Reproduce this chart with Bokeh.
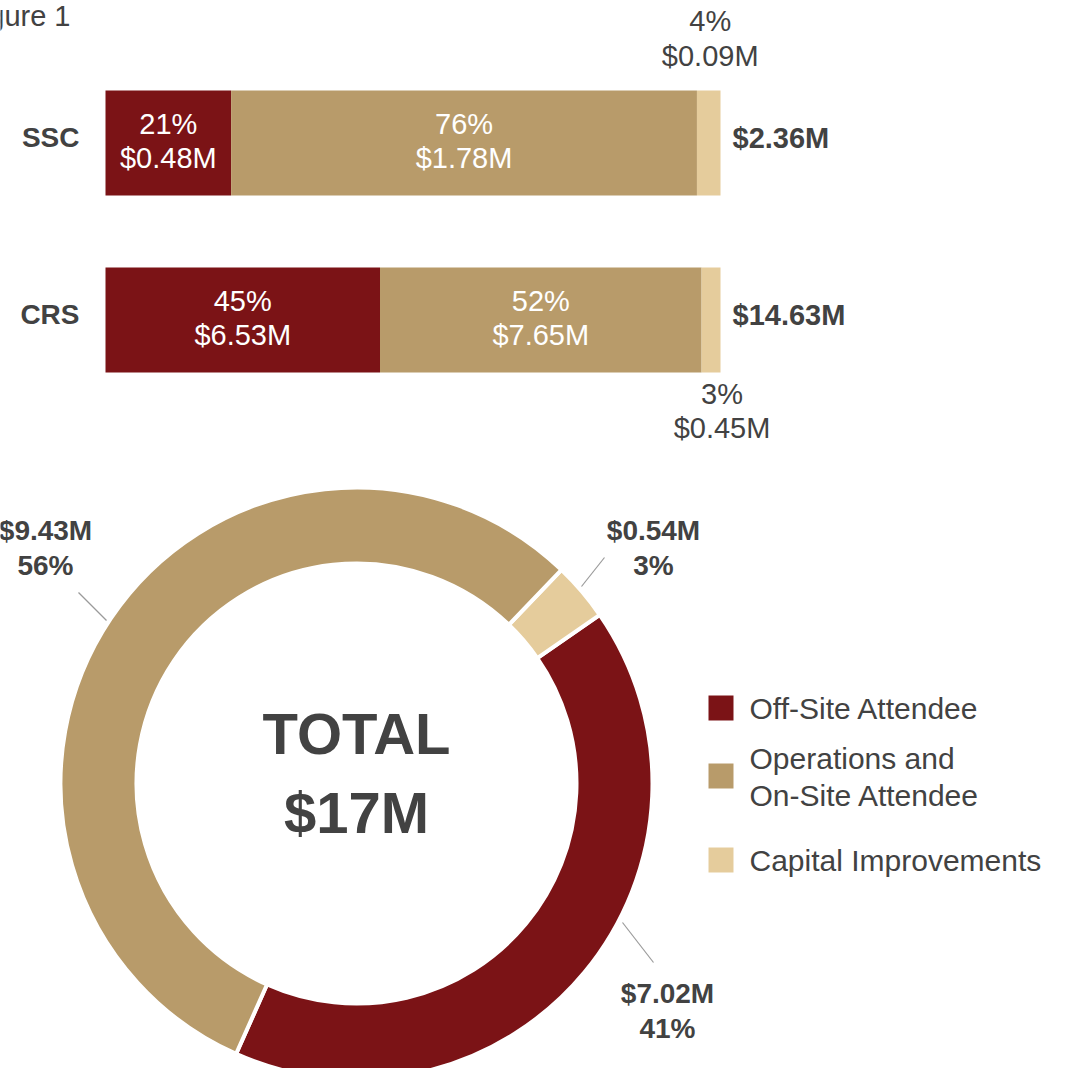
import math
from bokeh.plotting import figure
from bokeh.layouts import column
from bokeh.models import Range1d, ColumnDataSource
from bokeh.core.properties import value
from bokeh.embed import file_html
from bokeh.resources import INLINE

# ---------------- data ----------------
rows = ["SSC", "CRS"]
categories = ["Off-Site Attendee", "Operations and\nOn-Site Attendee", "Capital Improvements"]
ssc_values = [0.48, 1.78, 0.09]
crs_values = [6.53, 7.65, 0.45]
ssc_pct = [21, 76, 4]
crs_pct = [45, 52, 3]
row_totals = ["$2.36M", "$14.63M"]
total_values = [7.02, 9.43, 0.54]
total_pct = [41, 56, 3]
total_label = ["TOTAL", "$17M"]

colors = ["#7B1316", "#B89B6A", "#E5CC9C"]
TXT = "#424242"
FONT = value("Liberation Sans")

W = 1066
H1 = 453
H2 = 615

# ---------------- bars ----------------
ppu_x = 615.0
x0 = -105.0 / ppu_x
ppu_y = 177.0
ytop = 1 + 142.5 / ppu_y
p1 = figure(width=W, height=H1, output_backend="svg", toolbar_location=None,
            x_range=Range1d(x0, x0 + W / ppu_x),
            y_range=Range1d(ytop - H1 / ppu_y, ytop),
            x_axis_location=None, y_axis_location=None, min_border=0)
p1.grid.visible = False
p1.outline_line_color = None
p1.background_fill_color = "white"

row_y = {"SSC": 1, "CRS": 0}
all_vals = {"SSC": ssc_values, "CRS": crs_values}
all_pct = {"SSC": ssc_pct, "CRS": crs_pct}
for r in rows:
    vals = all_vals[r]
    tot = sum(vals)
    left = 0.0
    for i, v in enumerate(vals):
        right = left + v / tot
        p1.hbar(y=row_y[r], left=left, right=right, height=105 / ppu_y,
                fill_color=colors[i], line_color=None)
        mid = (left + right) / 2
        lab_pct = f"{all_pct[r][i]}%"
        lab_val = f"${v:.2f}M"
        if i < 2:
            p1.text(x=[mid], y=[row_y[r]], text=[lab_pct], y_offset=-19.5,
                    text_align="center", text_baseline="middle", text_color="white",
                    text_font=FONT, text_font_size="29px")
            p1.text(x=[mid], y=[row_y[r]], text=[lab_val], y_offset=15,
                    text_align="center", text_baseline="middle", text_color="white",
                    text_font=FONT, text_font_size="29px")
        else:
            if r == "SSC":
                offs, dx = (-122.5, -87.5), 1.5
            else:
                offs, dx = (73.5, 107.5), 11
            p1.text(x=[mid], y=[row_y[r]], text=[lab_pct], y_offset=offs[0], x_offset=dx,
                    text_align="center", text_baseline="middle", text_color=TXT,
                    text_font=FONT, text_font_size="29px")
            p1.text(x=[mid], y=[row_y[r]], text=[lab_val], y_offset=offs[1], x_offset=dx,
                    text_align="center", text_baseline="middle", text_color=TXT,
                    text_font=FONT, text_font_size="29px")
        left = right
    p1.text(x=[0], y=[row_y[r]], text=[r], x_offset=-26, y_offset=-5.5, text_align="right",
            text_baseline="middle", text_color=TXT, text_font=FONT,
            text_font_size="28px", text_font_style="bold")
    p1.text(x=[1], y=[row_y[r]], text=[row_totals[rows.index(r)]], x_offset=12,
            y_offset=-5.5, text_align="left", text_baseline="middle", text_color=TXT,
            text_font=FONT, text_font_size="29px", text_font_style="bold")

# figure title (cropped in the reference)
p1.text(x=[(70 - 105) / ppu_x], y=[1 + (142.5 - 15) / ppu_y], text=["Figure 1"],
        text_align="right", text_baseline="alphabetic", text_color=TXT,
        text_font=FONT, text_font_size="29px")

# ---------------- donut ----------------
def Y(refy):
    return 1076 - refy

p2 = figure(width=W, height=H2, output_backend="svg", toolbar_location=None,
            x_range=Range1d(0, W), y_range=Range1d(Y(453 + H2), Y(453)),
            x_axis_location=None, y_axis_location=None, min_border=0)
p2.grid.visible = False
p2.outline_line_color = None
p2.background_fill_color = "white"

cx, cy = 356, Y(783)
order = [0, 2, 1]  # anticlockwise from bottom: off-site, capital, operations
gt = sum(total_values)
start = math.radians(-114.0)
starts, ends, cols = [], [], []
for i in order:
    span = total_values[i] / gt * 2 * math.pi
    starts.append(start)
    ends.append(start + span)
    cols.append(colors[i])
    start += span
src = ColumnDataSource(dict(s=starts, e=ends, c=cols))
p2.annular_wedge(x=cx, y=cy, inner_radius=220, outer_radius=296,
                 start_angle="s", end_angle="e", fill_color="c",
                 line_color="white", line_width=4, source=src)

# leader lines
p2.segment(x0=[78, 604, 622], y0=[Y(592), Y(557), Y(922)],
           x1=[106, 581, 653], y1=[Y(620), Y(586), Y(962)],
           line_color="#9a9a9a", line_width=1.2)

# slice labels
lab_pos = {1: (45, 530), 2: (653, 530), 0: (667, 993)}
for i in range(3):
    lx, ly = lab_pos[i]
    p2.text(x=[lx], y=[Y(ly)], text=[f"${total_values[i]:.2f}M"], text_align="center",
            text_baseline="middle", text_color=TXT, text_font=FONT,
            text_font_size="28px", text_font_style="bold")
    p2.text(x=[lx], y=[Y(ly + 35)], text=[f"{total_pct[i]}%"], text_align="center",
            text_baseline="middle", text_color=TXT, text_font=FONT,
            text_font_size="28px", text_font_style="bold")

# center text
p2.text(x=[cx], y=[Y(733)], text=[total_label[0]], text_align="center",
        text_baseline="middle", text_color=TXT, text_font=FONT,
        text_font_size="58px", text_font_style="bold")
p2.text(x=[cx], y=[Y(812)], text=[total_label[1]], text_align="center",
        text_baseline="middle", text_color=TXT, text_font=FONT,
        text_font_size="58px", text_font_style="bold")

# legend
leg_sq = [707.5, 775.5, 859.5]
for i in range(3):
    p2.rect(x=[720.5], y=[Y(leg_sq[i])], width=25, height=25,
            fill_color=colors[i], line_color=None)
    lines = categories[i].split("\n")
    if len(lines) == 1:
        ys = [leg_sq[i]]
    else:
        ys = [leg_sq[i] - 17.5, leg_sq[i] + 19.5]
    for t, yy in zip(lines, ys):
        p2.text(x=[749], y=[Y(yy)], text=[t], text_align="left",
                text_baseline="middle", text_color=TXT, text_font=FONT,
                text_font_size="30px")

layout = column(p1, p2, spacing=0)
open("out.html", "w").write(file_html(layout, INLINE))
